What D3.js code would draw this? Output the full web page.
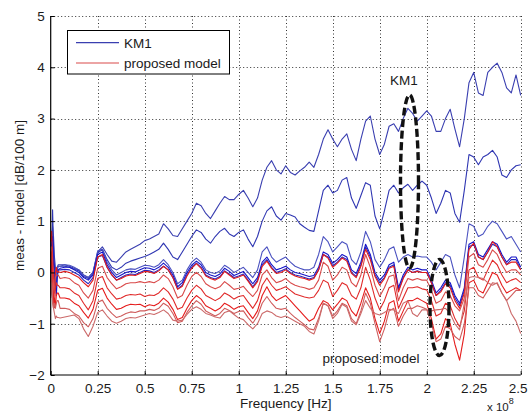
<!DOCTYPE html>
<html><head><meta charset="utf-8">
<script src="https://cdn.jsdelivr.net/npm/d3@7"></script>
<style>
body{margin:0;background:#fff}
text{font-family:"Liberation Sans",Arial,Helvetica,sans-serif;fill:#1a1a1a}
</style>
</head><body>
<svg id="chart" width="529" height="416"></svg>
<script>
// ---------- data (frequency in units of 1e8 Hz) ----------
const freq = [0,0.005,0.01,0.015,0.02,0.025,0.03,0.035,0.04,
0.05,0.075,0.1,0.125,0.15,0.175,0.2,0.225,0.25,0.275,
0.3,0.325,0.35,0.375,0.4,0.425,0.45,0.475,0.5,0.525,
0.55,0.575,0.6,0.625,0.65,0.675,0.7,0.725,0.75,0.775,
0.8,0.825,0.85,0.875,0.9,0.925,0.95,0.975,1.0,1.025,
1.05,1.075,1.1,1.125,1.15,1.175,1.2,1.225,1.25,1.275,
1.3,1.325,1.35,1.375,1.4,1.425,1.45,1.475,1.5,1.525,
1.55,1.575,1.6,1.625,1.65,1.675,1.7,1.725,1.75,1.775,
1.8,1.825,1.85,1.875,1.9,1.925,1.95,1.975,2.0,2.025,
2.05,2.075,2.1,2.125,2.15,2.175,2.2,2.225,2.25,2.275,
2.3,2.325,2.35,2.375,2.4,2.425,2.45,2.475,2.5];

// KM1 curves (meas - model)
const km1_1 = [0.3,0.6,0.9,0.7,0.3,0.1,0.0,0.1,0.15,
0.15,0.15,0.12,0.08,0.05,-0.05,-0.1,0.0,0.4,0.5,
0.35,0.22,0.2,0.3,0.4,0.45,0.5,0.55,0.62,0.65,
0.7,0.75,0.95,0.85,0.72,0.7,0.85,1.0,1.15,1.35,
1.3,1.15,1.05,1.2,1.35,1.48,1.42,1.42,1.52,1.6,
1.45,1.28,1.45,1.8,2.05,2.18,2.0,1.92,2.08,1.95,
1.9,1.98,2.05,2.15,2.05,2.3,2.6,2.78,2.6,2.45,
2.6,2.7,2.4,2.18,2.6,2.95,3.05,2.6,2.3,2.5,
2.85,2.9,2.75,3.0,3.2,3.1,2.95,3.05,3.15,3.05,
2.75,2.75,3.0,3.18,2.8,2.45,3.0,3.7,3.9,3.5,
3.45,3.9,4.0,4.08,3.9,3.6,3.5,3.85,3.45];
const km1_2 = [-0.45,0.2,1.22,0.5,-0.1,-0.3,-0.2,0.05,0.12,
0.12,0.12,0.1,0.06,0.03,-0.08,-0.12,-0.02,0.38,0.45,
0.25,0.1,0.05,0.1,0.18,0.22,0.25,0.28,0.31,0.35,
0.4,0.45,0.57,0.45,0.3,0.25,0.4,0.55,0.7,0.83,
0.78,0.65,0.57,0.7,0.8,0.86,0.75,0.7,0.78,0.83,
0.65,0.5,0.7,1.0,1.2,1.28,1.1,1.02,1.15,1.12,
1.08,0.95,0.88,0.82,0.8,1.2,1.6,1.7,1.55,1.6,
1.8,1.85,1.45,1.25,1.5,1.75,1.7,1.1,0.85,1.2,
1.6,1.7,1.55,1.65,1.72,1.6,1.7,1.78,1.7,1.45,
1.15,1.35,1.6,1.55,1.15,0.98,1.6,2.3,2.25,2.1,
2.25,2.3,2.38,2.25,1.9,1.85,2.0,2.08,2.1];
const km1_3 = [0.5,0.8,0.4,0.2,0.0,-0.35,-0.1,0.1,0.12,
0.12,0.15,0.14,0.1,0.05,-0.05,-0.1,0.0,0.42,0.45,
0.2,0.05,-0.05,0.0,0.05,0.07,0.06,0.1,0.14,0.13,
0.1,0.15,0.25,0.15,0.0,-0.22,-0.15,0.05,0.2,0.28,
0.2,0.05,0.0,-0.02,0.03,0.14,0.08,0.0,0.05,0.1,
0.0,-0.1,0.05,0.4,0.5,0.3,0.2,0.25,0.3,0.2,
0.12,0.08,0.05,0.05,0.1,0.35,0.7,0.6,0.4,0.5,
0.6,0.55,0.25,0.15,0.4,0.8,0.6,0.25,0.1,0.25,
0.45,0.5,0.2,0.3,0.35,0.3,0.32,0.3,0.3,0.2,
0.05,0.2,0.35,0.3,-0.05,-0.3,0.3,0.95,0.9,0.7,
0.75,0.9,1.0,0.95,0.8,0.65,0.7,0.55,0.4];
const km1_4 = [0.2,0.5,0.7,0.3,0.1,-0.1,-0.45,-0.1,0.05,
0.08,0.1,0.1,0.05,0.0,-0.1,-0.15,-0.05,0.35,0.4,
0.15,0.0,-0.1,-0.05,0.0,0.02,0.01,0.05,0.09,0.08,
0.05,0.1,0.18,0.1,-0.05,-0.28,-0.2,0.0,0.14,0.22,
0.15,0.0,-0.05,-0.08,-0.03,0.08,0.02,-0.06,-0.02,0.02,
-0.1,-0.22,-0.1,0.2,0.3,0.15,0.05,0.08,0.12,0.05,
0.0,-0.02,-0.05,-0.08,-0.06,0.1,0.4,0.35,0.18,0.25,
0.35,0.3,0.05,-0.02,0.2,0.55,0.35,0.0,-0.15,-0.05,
0.15,0.2,-0.3,-0.05,0.1,0.05,0.08,0.05,0.05,-0.15,
-0.4,-0.3,-0.15,-0.2,-0.45,-0.6,-0.3,0.55,0.6,0.35,
0.3,0.45,0.6,0.55,0.35,0.2,0.3,0.3,0.1];
const km1_5 = [0.0,0.3,0.6,0.2,0.05,-0.2,-0.3,-0.05,0.05,
0.05,0.06,0.05,0.0,-0.05,-0.15,-0.22,-0.1,0.3,0.33,
0.1,-0.05,-0.15,-0.1,-0.05,-0.03,-0.04,0.0,0.04,0.03,
0.0,0.05,0.12,0.05,-0.1,-0.32,-0.25,-0.05,0.1,0.18,
0.1,-0.05,-0.1,-0.13,-0.08,0.03,-0.03,-0.1,-0.07,-0.03,
-0.15,-0.28,-0.15,0.15,0.25,0.1,0.0,0.03,0.07,0.0,
-0.05,-0.07,-0.1,-0.13,-0.1,0.05,0.35,0.3,0.13,0.2,
0.3,0.25,0.0,-0.08,0.15,0.5,0.3,-0.05,-0.2,-0.1,
0.1,0.15,-0.35,-0.1,0.05,0.0,0.03,0.0,0.0,-0.2,
-0.45,-0.35,-0.2,-0.25,-0.5,-0.65,-0.35,0.5,0.55,0.3,
0.25,0.4,0.55,0.5,0.3,0.15,0.25,0.25,0.05];

// proposed model curves (meas - model)
const prop_1 = [0.6,0.8,0.3,-0.1,-0.4,0.0,0.1,0.0,0.02,
0.0,0.02,0.0,-0.05,-0.1,-0.2,-0.28,-0.15,0.3,0.35,
0.1,-0.05,-0.15,-0.12,-0.07,-0.05,-0.06,-0.02,0.02,0.01,
-0.02,0.03,0.12,0.05,-0.1,-0.33,-0.27,-0.07,0.08,0.17,
0.08,-0.07,-0.12,-0.15,-0.1,0.02,-0.05,-0.12,-0.09,-0.05,
-0.17,-0.3,-0.18,0.12,0.22,0.08,-0.02,0.0,0.05,-0.02,
-0.07,-0.1,-0.12,-0.15,-0.12,0.05,0.35,0.28,0.1,0.18,
0.28,0.22,-0.02,-0.1,0.12,0.45,0.25,-0.08,-0.25,-0.12,
0.08,0.12,-0.38,-0.12,0.05,0.0,0.02,0.0,0.0,-0.2,
-0.45,-0.38,-0.22,-0.3,-0.55,-0.7,-0.4,0.45,0.57,0.3,
0.25,0.4,0.6,0.5,0.3,0.15,0.2,0.2,0.05];
const prop_2 = [0.3,0.5,0.1,-0.7,-0.3,-0.1,-0.05,-0.05,-0.05,
-0.12,-0.1,-0.12,-0.2,-0.25,-0.4,-0.5,-0.35,0.08,0.12,
-0.1,-0.22,-0.32,-0.28,-0.22,-0.2,-0.2,-0.18,-0.2,-0.18,
-0.2,-0.15,-0.05,-0.12,-0.28,-0.5,-0.45,-0.25,-0.08,0.0,
-0.08,-0.22,-0.28,-0.32,-0.28,-0.18,-0.25,-0.33,-0.31,-0.27,
-0.38,-0.47,-0.35,-0.05,0.05,-0.1,-0.2,-0.17,-0.12,-0.2,
-0.25,-0.28,-0.3,-0.33,-0.3,-0.15,0.2,0.12,-0.15,-0.05,
0.1,0.05,-0.2,-0.28,-0.05,0.35,0.1,-0.25,-0.47,-0.3,
-0.08,-0.05,-0.55,-0.3,-0.12,-0.15,-0.12,-0.15,-0.15,-0.35,
-0.6,-0.55,-0.38,-0.45,-0.65,-0.75,-0.5,0.3,0.37,0.15,
0.1,0.25,0.44,0.35,0.15,0.0,0.05,0.05,-0.05];
const prop_3 = [0.1,0.4,-0.2,-0.5,-0.69,-0.3,-0.2,-0.25,-0.25,
-0.3,-0.3,-0.32,-0.4,-0.45,-0.6,-0.73,-0.55,-0.12,-0.08,
-0.3,-0.42,-0.52,-0.5,-0.45,-0.43,-0.44,-0.42,-0.47,-0.44,
-0.45,-0.4,-0.3,-0.38,-0.52,-0.72,-0.68,-0.5,-0.35,-0.25,
-0.32,-0.45,-0.5,-0.55,-0.5,-0.4,-0.45,-0.52,-0.47,-0.45,
-0.58,-0.7,-0.55,-0.25,-0.11,-0.25,-0.35,-0.32,-0.28,-0.35,
-0.42,-0.45,-0.48,-0.5,-0.48,-0.35,-0.15,-0.2,-0.47,-0.35,
-0.2,-0.25,-0.45,-0.52,-0.3,0.1,-0.15,-0.5,-0.73,-0.55,
-0.3,-0.25,-0.7,-0.5,-0.3,-0.3,-0.28,-0.32,-0.34,-0.55,
-0.85,-0.8,-0.6,-0.65,-0.9,-1.06,-0.75,0.05,0.1,-0.1,
-0.15,0.05,0.24,0.15,-0.05,-0.2,-0.15,-0.12,-0.2];
const prop_4 = [-0.2,0.2,-0.4,-0.6,-0.5,-0.67,-0.45,-0.4,-0.4,
-0.5,-0.5,-0.52,-0.6,-0.65,-0.78,-0.89,-0.72,-0.35,-0.31,
-0.5,-0.62,-0.72,-0.7,-0.65,-0.62,-0.63,-0.62,-0.67,-0.63,
-0.65,-0.6,-0.5,-0.58,-0.72,-0.92,-0.88,-0.7,-0.55,-0.45,
-0.52,-0.65,-0.7,-0.75,-0.7,-0.6,-0.65,-0.72,-0.67,-0.65,
-0.78,-0.9,-0.75,-0.45,-0.28,-0.45,-0.55,-0.5,-0.45,-0.55,
-0.65,-0.75,-0.85,-0.95,-0.9,-0.7,-0.55,-0.6,-0.73,-0.62,
-0.5,-0.55,-0.75,-0.85,-0.6,-0.3,-0.5,-0.9,-1.19,-0.95,
-0.6,-0.55,-0.95,-0.75,-0.55,-0.55,-0.5,-0.55,-0.6,-0.9,
-1.3,-1.2,-0.9,-1.0,-1.4,-1.71,-1.2,-0.2,-0.15,-0.35,
-0.4,-0.2,0.0,-0.05,-0.25,-0.4,-0.35,-0.3,-0.35];
const prop_5 = [-0.4,0.0,-0.5,-0.7,-0.6,-0.7,-0.6,-0.55,-0.55,
-0.7,-0.7,-0.72,-0.8,-0.85,-0.98,-1.06,-0.9,-0.58,-0.54,
-0.7,-0.8,-0.88,-0.85,-0.8,-0.77,-0.78,-0.75,-0.75,-0.72,
-0.74,-0.7,-0.6,-0.66,-0.8,-0.98,-0.95,-0.78,-0.65,-0.55,
-0.62,-0.75,-0.8,-0.85,-0.8,-0.7,-0.74,-0.8,-0.76,-0.75,
-0.88,-0.99,-0.85,-0.6,-0.47,-0.6,-0.7,-0.72,-0.7,-0.8,
-0.88,-0.95,-1.02,-1.1,-1.12,-0.9,-0.6,-0.65,-0.85,-0.75,
-0.6,-0.65,-0.9,-1.0,-0.75,-0.4,-0.6,-1.0,-1.35,-1.1,
-0.75,-0.7,-1.05,-0.85,-0.7,-0.7,-0.65,-0.68,-0.72,-1.0,
-1.35,-1.3,-1.05,-1.1,-1.25,-1.32,-1.0,-0.3,-0.3,-0.45,
-0.5,-0.35,-0.2,-0.22,-0.4,-0.55,-0.45,-0.35,-0.35];
const prop_6 = [-0.5,-0.2,-0.6,-0.7,-0.8,-0.9,-0.85,-0.88,-0.88,
-0.89,-0.87,-0.85,-0.83,-0.9,-1.1,-1.25,-1.05,-0.78,-0.73,
-0.85,-0.95,-0.99,-0.95,-0.9,-0.88,-0.89,-0.86,-0.83,-0.8,
-0.82,-0.78,-0.73,-0.8,-0.93,-0.95,-0.93,-0.82,-0.72,-0.67,
-0.72,-0.8,-0.83,-0.87,-0.89,-0.78,-0.75,-0.82,-0.89,-0.92,
-1.02,-1.1,-1.0,-0.8,-0.75,-0.78,-0.85,-0.88,-0.85,-0.9,
-0.95,-1.0,-1.05,-1.15,-1.2,-0.95,-0.6,-0.65,-0.9,-0.8,
-0.62,-0.68,-0.95,-1.02,-0.8,-0.55,-0.7,-0.8,-0.83,-0.78,
-0.72,-0.73,-0.8,-0.6,-0.55,-0.8,-0.86,-0.73,-0.73,-0.75,
-0.73,-0.72,-0.7,-0.8,-1.0,-1.12,-0.6,-0.1,-0.08,-0.1,
-0.12,-0.2,-0.25,-0.2,-0.4,-0.55,-0.8,-0.95,-1.19];

const km1Series  = [km1_1, km1_2, km1_3, km1_4, km1_5];
const km1Colors  = ["#3a3fb0", "#2f36b2", "#4b52c0", "#1414c8", "#2626bf"];
const propSeries = [prop_1, prop_2, prop_3, prop_4, prop_5, prop_6];
const propColors = ["#e31b1b", "#d94a4a", "#e02a2a", "#e51c1c", "#cf5c5c", "#cc6a6a"];

const xTicks = [0,0.25,0.5,0.75,1,1.25,1.5,1.75,2,2.25,2.5];
const yTicks = [-2,-1,0,1,2,3,4,5];
const legendLabels = ["KM1", "proposed model"];

// ---------- drawing ----------
const svg = d3.select("#chart");
const x = d3.scaleLinear().domain([0, 2.5]).range([50.7, 520.7]);
const y = d3.scaleLinear().domain([-2, 5]).range([375, 16]);
const FS = "13.5px";

// grid
const grid = svg.append("g").attr("stroke", "#333").attr("stroke-width", 1)
  .attr("stroke-dasharray", "1,2.5");
grid.selectAll(".vg").data(xTicks.filter(d => d > 0)).enter().append("line")
  .attr("x1", d => Math.round(x(d)) + 0.5).attr("x2", d => Math.round(x(d)) + 0.5)
  .attr("y1", y(5)).attr("y2", y(-2));
grid.selectAll(".hg").data(yTicks.filter(d => d > -2)).enter().append("line")
  .attr("y1", d => Math.round(y(d)) + 0.5).attr("y2", d => Math.round(y(d)) + 0.5)
  .attr("x1", x(0)).attr("x2", x(2.5));

// lines
const line = d3.line().x((d, i) => x(freq[i])).y(d => y(d));
const lg = svg.append("g").attr("fill", "none").attr("stroke-width", 1.1)
  .attr("stroke-linejoin", "round");
km1Series.forEach((s, k) => lg.append("path").attr("d", line(s)).attr("stroke", km1Colors[k]));
propSeries.forEach((s, k) => lg.append("path").attr("d", line(s)).attr("stroke", propColors[k]));

// axes
const fmt = d => d3.format("~g")(d);
const xAxis = svg.append("g").attr("transform", `translate(0,${y(-2)})`)
  .call(d3.axisBottom(x).tickValues(xTicks).tickFormat(fmt).tickSizeInner(-4).tickSizeOuter(0).tickPadding(8));
const yAxis = svg.append("g").attr("transform", `translate(${x(0)},0)`)
  .call(d3.axisLeft(y).tickValues(yTicks).tickFormat(fmt).tickSizeInner(-4).tickSizeOuter(0).tickPadding(6));
[xAxis, yAxis].forEach(a => {
  a.select(".domain").attr("stroke", "#000").attr("stroke-width", 1.2);
  a.selectAll(".tick line").attr("stroke", "#000");
  a.selectAll("text").attr("font-size", FS).attr("fill", "#1a1a1a")
    .attr("font-family", "'Liberation Sans',Arial,sans-serif");
});
xAxis.selectAll(".tick text").filter(d => d === 2.5).attr("dx", -3);
xAxis.select(".domain").attr("d", `M${x(0)},0H${x(2.5)}`);
yAxis.select(".domain").attr("d", `M0,${y(-2)}V${y(5)}`);

// axis titles
svg.append("text").attr("x", (x(0) + x(2.5)) / 2).attr("y", 408)
  .attr("text-anchor", "middle").attr("font-size", FS).text("Frequency [Hz]");
svg.append("text").attr("transform", `translate(24,${(y(5) + y(-2)) / 2}) rotate(-90)`)
  .attr("text-anchor", "middle").attr("font-size", FS).text("meas - model [dB/100 m]");
const ex = svg.append("text").attr("x", 487).attr("y", 411).attr("font-size", "11.5px");
ex.append("tspan").text("x 10");
ex.append("tspan").attr("dy", -7).attr("font-size", "9px").text("8");

// legend
const leg = svg.append("g");
leg.append("rect").attr("x", 67.5).attr("y", 30.5).attr("width", 162).attr("height", 43.5)
  .attr("fill", "#fff").attr("stroke", "#000").attr("stroke-width", 1);
[["#3a3fb0", 42.7], ["#d94a4a", 63]].forEach((c, i) => {
  leg.append("line").attr("x1", 76).attr("x2", 119).attr("y1", c[1]).attr("y2", c[1])
    .attr("stroke", c[0]).attr("stroke-width", 1.2);
  leg.append("text").attr("x", 124).attr("y", c[1] + 4.8).attr("font-size", FS).text(legendLabels[i]);
});

// annotations
const ann = svg.append("g").attr("fill", "none").attr("stroke", "#111")
  .attr("stroke-width", 3.4).attr("stroke-dasharray", "8,3.5");
ann.append("ellipse").attr("cx", 409.5).attr("cy", 181.5).attr("rx", 9).attr("ry", 86.5);
ann.append("ellipse").attr("cx", 439.5).attr("cy", 307.5).attr("rx", 9.5).attr("ry", 48);
svg.append("text").attr("x", 404).attr("y", 85).attr("text-anchor", "middle")
  .attr("font-size", FS).attr("fill", "#333").text("KM1");
svg.append("text").attr("x", 371).attr("y", 363).attr("text-anchor", "middle")
  .attr("font-size", FS).attr("fill", "#333").text("proposed model");
</script>
</body></html>
